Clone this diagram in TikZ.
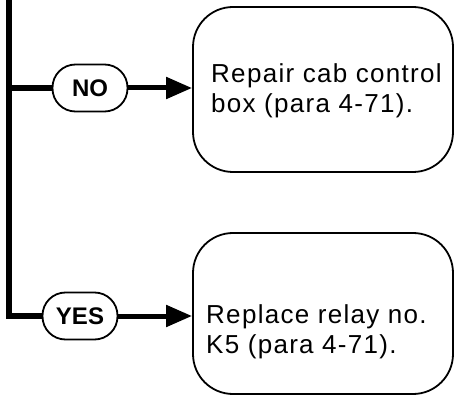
\documentclass[tikz,border=0pt]{standalone}
\usepackage{fontspec}
\setmainfont{Liberation Sans}
\newfontfamily\stepfont{Liberation Sans}[LetterSpace=5]
\usetikzlibrary{arrows.meta}

\begin{document}
\begin{tikzpicture}[x=1pt,y=-1pt,
  answer/.style={draw,line width=1.8pt,rounded corners=23pt,minimum width=75pt,minimum height=47pt,inner sep=0pt,font=\fontsize{24}{24}\selectfont\bfseries},
  action/.style={draw,line width=1.8pt,rounded corners=40pt,minimum width=260pt,inner sep=0pt},
  steptext/.style={align=left,anchor=base west,inner sep=0pt,font=\stepfont\fontsize{26}{30}\selectfont},
  flow/.style={line width=6pt},
  flowarrow/.style={line width=5pt,-{Triangle[length=26pt,width=21pt]}}]
\useasboundingbox (0,0) rectangle (455,395);
% the two actions
\node[action,minimum height=165pt] (repair) at (323,89.5) {};
\node[action,minimum height=161pt] (replace) at (323,313.5) {};
\node[steptext] (repairtxt) at (211,113) {Repair cab control\\box (para 4-71).};
\node[steptext] (replacetxt) at (206,353) {Replace relay no.\\K5 (para 4-71).};
% answers
\node[answer] (no) at (90,88) {NO};
\node[answer] (yes) at (80,316) {YES};
\coordinate (top) at (9,0);
\draw[flow] (top) |- (yes.west);
\draw[flow] (top |- no) -- (no.west);
\draw[flowarrow] (no.east) -- (no.east -| repair.west);
\draw[flowarrow] (yes.east) -- (yes.east -| replace.west);
\end{tikzpicture}
\end{document}
